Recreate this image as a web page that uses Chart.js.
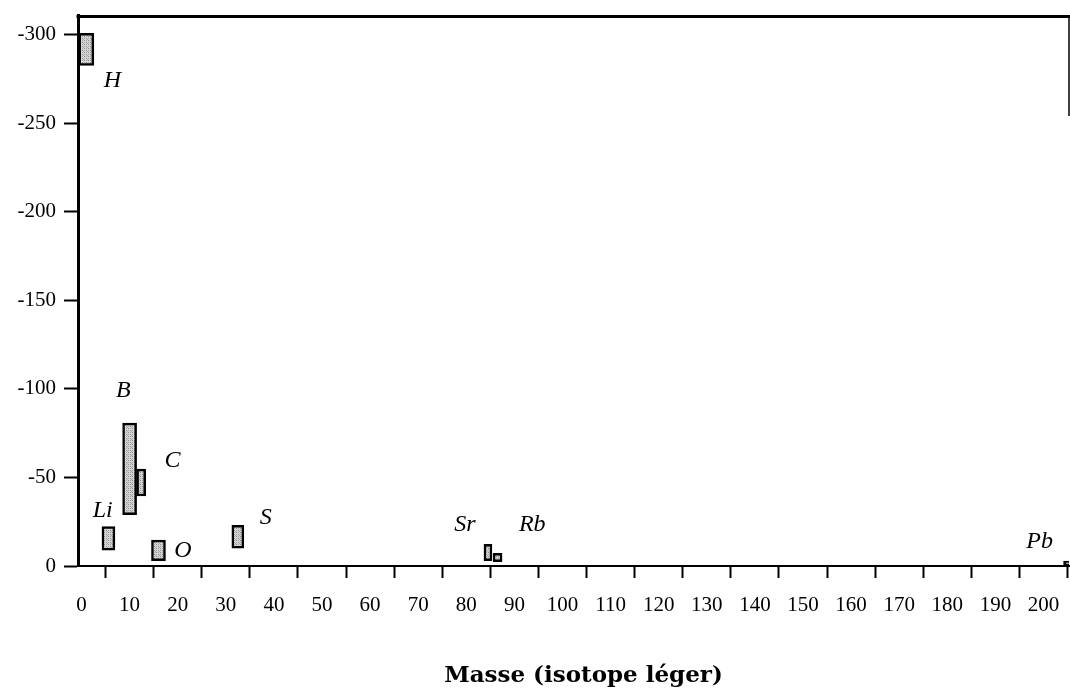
<!DOCTYPE html>
<html>
<head>
<meta charset="utf-8">
<script src="https://cdn.jsdelivr.net/npm/chart.js@4/dist/chart.umd.min.js"></script>
<style>
  html, body { margin: 0; padding: 0; background: #fff; }
  #wrap { width: 1070px; height: 698px; position: relative; }
</style>
</head>
<body>
<div id="wrap"><canvas id="c"></canvas></div>
<script>
// Isotope fractionation ranges, one box per element, placed at the light isotope's mass
const elements = ['H', 'Li', 'B', 'C', 'O', 'S', 'Sr', 'Rb', 'Pb'];
const masses   = [1, 5.6, 10, 12.4, 16, 32.5, 84.5, 86.5, 205];
const rangeLow  = [-282.5, -9, -29, -39.5, -3, -10, -3, -2.4, -0.5];
const rangeHigh = [-300.6, -22.2, -80.6, -54.7, -14.7, -23, -12.2, -7.1, -2.8];

// Element name anchors (mass, baseline value)
const nameMass = [6.4, 4.4, 8.7, 18.9, 21.1, 38.3, 79.7, 93.7, 199.2];
const nameBase = [-270.2, -27.8, -95.6, -56, -5.2, -23.7, -19.8, -19.8, -10.2];

// Axis ticks
const xTicks = [0, 10, 20, 30, 40, 50, 60, 70, 80, 90, 100, 110, 120, 130, 140, 150, 160, 170, 180, 190, 200];
const yTicks = [0, -50, -100, -150, -200, -250, -300];
const xTitle = 'Masse (isotope léger)';

// Box widths in pixels
const boxPx = { H: 15, Li: 13, B: 14, C: 9, O: 14, S: 12, Sr: 8, Rb: 9, Pb: 8 };

const canvas = document.getElementById('c');
const ctx = canvas.getContext('2d');

function stipple() {
  const p = document.createElement('canvas');
  p.width = 4; p.height = 4;
  const g = p.getContext('2d');
  g.fillStyle = '#d4d4d4'; g.fillRect(0, 0, 4, 4);
  g.fillStyle = '#8c8c8c'; g.fillRect(0, 0, 1, 1); g.fillRect(2, 2, 1, 1);
  g.fillStyle = '#aaaaaa'; g.fillRect(2, 0, 1, 1); g.fillRect(0, 2, 1, 1); g.fillRect(3, 3, 1, 1);
  return ctx.createPattern(p, 'repeat');
}
const fillPat = stipple();

const datasets = elements.map((el, i) => ({
  label: el,
  data: [{ x: masses[i], y: [rangeLow[i], rangeHigh[i]] }],
  backgroundColor: fillPat,
  borderColor: '#000',
  borderWidth: 2.5,
  borderSkipped: false,
  barThickness: boxPx[el],
  grouped: false
}));

const serif = '"Liberation Serif", "Times New Roman", serif';

const framePlugin = {
  id: 'frame',
  afterDraw(chart) {
    const { ctx, chartArea: a, scales } = chart;
    ctx.save();
    ctx.strokeStyle = '#000';
    ctx.lineWidth = 3;
    ctx.beginPath();
    ctx.moveTo(a.left - 1.5, a.top + 1.5);
    ctx.lineTo(a.right + 1, a.top + 1.5);
    ctx.stroke();
    ctx.lineWidth = 1.5;
    ctx.beginPath();
    ctx.moveTo(a.right, a.top);
    ctx.lineTo(a.right, scales.y.getPixelForValue(-254));
    ctx.stroke();
    // axis title under the mass axis
    ctx.fillStyle = '#000';
    ctx.font = 'bold 23px "DejaVu Serif", serif';
    ctx.textAlign = 'center';
    ctx.textBaseline = 'middle';
    ctx.fillText(xTitle, (a.left + a.right) / 2 + 10, 676);
    ctx.restore();
  }
};

const namePlugin = {
  id: 'names',
  afterDatasetsDraw(chart) {
    const { ctx, scales } = chart;
    ctx.save();
    ctx.fillStyle = '#000';
    ctx.font = 'italic 24px ' + serif;
    ctx.textAlign = 'center';
    ctx.textBaseline = 'alphabetic';
    elements.forEach((el, i) => {
      ctx.fillText(el, scales.x.getPixelForValue(nameMass[i]), scales.y.getPixelForValue(nameBase[i]));
    });
    ctx.restore();
  }
};

new Chart(canvas, {
  type: 'bar',
  data: { datasets },
  plugins: [framePlugin, namePlugin],
  options: {
    responsive: true,
    maintainAspectRatio: false,
    animation: false,
    layout: { padding: { top: 15, right: 1, left: 0, bottom: 0 } },
    plugins: { legend: { display: false }, tooltip: { enabled: false } },
    scales: {
      x: {
        type: 'linear',
        min: -0.73,
        max: 205.3,
        offset: false,
        afterBuildTicks: s => { s.ticks = xTicks.map(v => ({ value: v })); },
        afterFit: s => { s.height = 132; s.paddingLeft = 0; s.paddingRight = 0; },
        grid: { drawOnChartArea: false, drawTicks: true, tickLength: 12, tickWidth: 2, tickColor: '#000' },
        border: { display: true, color: '#000', width: 2 },
        ticks: { color: '#000', font: { family: serif, size: 21 }, padding: 15, maxRotation: 0, autoSkip: false,
                 callback: v => String(v) },
        title: { display: false }
      },
      y: {
        type: 'linear',
        reverse: true,
        min: -311,
        max: 0,
        afterBuildTicks: s => { s.ticks = yTicks.map(v => ({ value: v })); },
        afterFit: s => { s.width = 78; s.paddingTop = 0; s.paddingBottom = 0; },
        grid: { drawOnChartArea: false, drawTicks: true, tickLength: 14, tickWidth: 2, tickColor: '#000' },
        border: { display: true, color: '#000', width: 3 },
        ticks: { color: '#000', font: { family: serif, size: 21 }, padding: 8,
                 callback: v => String(v) }
      }
    }
  }
});
</script>
</body>
</html>
